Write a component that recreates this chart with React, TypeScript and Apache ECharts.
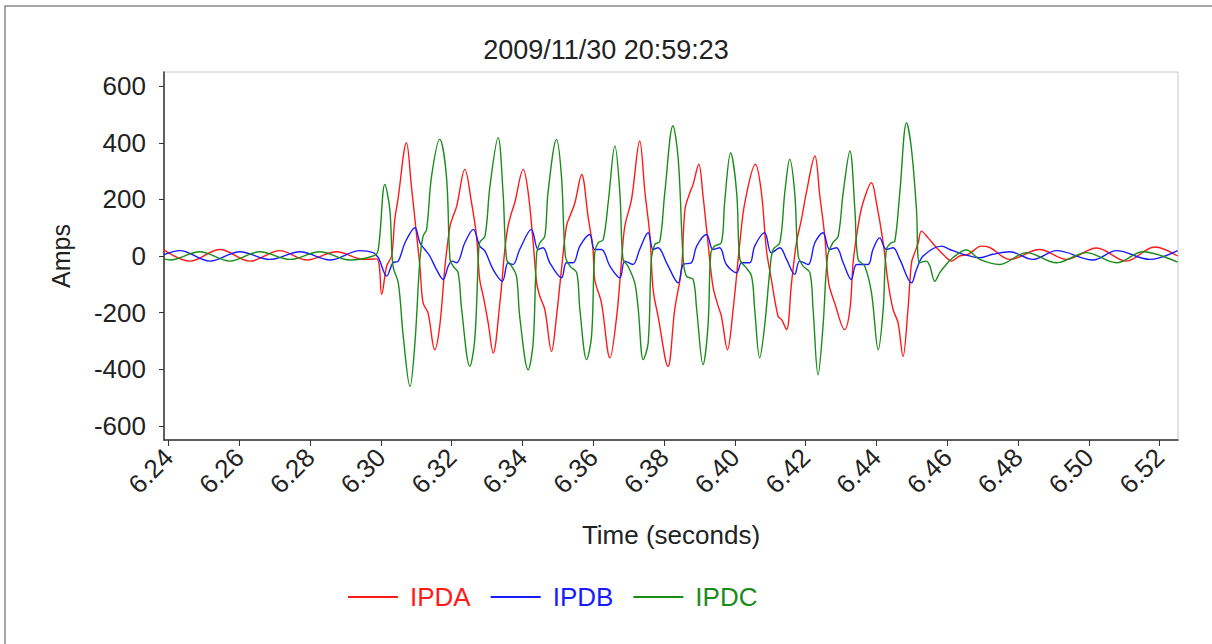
import React, { useEffect, useRef } from "react";
import * as echarts from "echarts";

const TITLE = "2009/11/30 20:59:23";
const SERIES_NAMES = ["IPDA", "IPDB", "IPDC"];
const SERIES_COLORS = ["#ff1a1a", "#1a1aff", "#1a8c1a"];
const TIME_TICKS = [6.24, 6.26, 6.28, 6.3, 6.32, 6.34, 6.36, 6.38, 6.4, 6.42, 6.44, 6.46, 6.48, 6.5, 6.52];
const AMP_TICKS = [-600, -400, -200, 0, 200, 400, 600];
const X_MIN = 6.2387;
const X_MAX = 6.5252;
const Y_MIN = -650;
const Y_MAX = 650;

const IPDA: [number, number][] = [
  [6.2385, 23], [6.246, -18], [6.2545, 23], [6.263, -18], [6.2714, 19], [6.2791, -14], [6.2875, 15],
  [6.2952, -12], [6.2988, -10], [6.3002, -136], [6.3016, -36], [6.303, 0], [6.3039, 129], [6.3048, 200],
  [6.3072, 400], [6.3086, 247], [6.3101, 70], [6.311, -36], [6.3119, -166], [6.3133, -201], [6.3152, -331],
  [6.3166, -248], [6.3181, -36], [6.3195, 105], [6.3204, 141], [6.3214, 176], [6.3237, 306], [6.3256, 188],
  [6.327, 70], [6.3279, -83], [6.3289, -142], [6.3303, -236], [6.3317, -343], [6.3336, -166], [6.335, 23],
  [6.3359, 105], [6.3369, 153], [6.3378, 188], [6.3402, 306], [6.3416, 224], [6.343, 47], [6.344, -95],
  [6.3449, -142], [6.3463, -189], [6.3482, -337], [6.3496, -213], [6.351, -48], [6.3524, 105], [6.3534, 141],
  [6.3548, 188], [6.3567, 288], [6.3585, 141], [6.3599, 23], [6.3604, -83], [6.3623, -166], [6.3647, -360],
  [6.3666, -213], [6.368, -12], [6.3689, 105], [6.3708, 200], [6.3731, 406], [6.3746, 224], [6.376, 70],
  [6.3769, -119], [6.3783, -213], [6.3811, -390], [6.383, -189], [6.3849, -48], [6.3859, 165], [6.3873, 224],
  [6.3882, 253], [6.3898, 324], [6.391, 212], [6.3924, 47], [6.3938, -107], [6.3953, -178], [6.3962, -213],
  [6.3979, -331], [6.3995, -189], [6.4014, 47], [6.4028, 188], [6.4058, 324], [6.4075, 224], [6.4089, 23],
  [6.4103, -83], [6.4122, -213], [6.4132, -225], [6.4146, -260], [6.416, -95], [6.4174, 47], [6.4188, 129],
  [6.4202, 224], [6.4226, 353], [6.424, 212], [6.4254, 70], [6.4265, -95], [6.4282, -166], [6.431, -260],
  [6.4325, -189], [6.4334, -24], [6.4348, 105], [6.4362, 188], [6.4386, 259], [6.44, 188], [6.4419, 47],
  [6.4433, -95], [6.4447, -189], [6.4461, -236], [6.4475, -355], [6.4489, -189], [6.4499, -24], [6.4508, 11],
  [6.4518, 47], [6.4527, 88], [6.4546, 64], [6.457, 29], [6.4593, 0], [6.4612, -18], [6.4635, 0],
  [6.4659, 6], [6.4697, 35], [6.472, 30], [6.4777, -12], [6.4861, 23], [6.4937, -12], [6.5022, 28],
  [6.5106, -18], [6.5186, 32], [6.5251, 0],
];

const IPDB: [number, number][] = [
  [6.2387, 5], [6.2432, 19], [6.2517, -18], [6.2601, 15], [6.2686, -12], [6.2771, 15], [6.2856, -14],
  [6.294, 19], [6.2978, 12], [6.2992, -5], [6.2997, -18], [6.3016, -71], [6.3034, -24], [6.3049, -18],
  [6.3068, 47], [6.3096, 100], [6.311, 47], [6.3124, 23], [6.3138, 0], [6.3157, -48], [6.3176, -83],
  [6.319, -36], [6.3201, -18], [6.3214, -24], [6.3237, 47], [6.3261, 94], [6.3279, 35], [6.3294, 17],
  [6.3317, -48], [6.3343, -89], [6.3359, -24], [6.3373, -30], [6.3392, 23], [6.3425, 94], [6.3444, 23],
  [6.3458, 29], [6.3477, -24], [6.351, -77], [6.3524, -24], [6.3543, -24], [6.3562, 35], [6.359, 76],
  [6.3604, 23], [6.3623, 23], [6.3647, -36], [6.3675, -77], [6.3689, -18], [6.3712, -30], [6.3731, 23],
  [6.3755, 82], [6.3769, 23], [6.3783, 29], [6.3807, -24], [6.384, -95], [6.3854, -30], [6.3877, -24],
  [6.3892, 35], [6.392, 76], [6.3938, 23], [6.3957, 29], [6.3976, -30], [6.4005, -59], [6.4019, -24],
  [6.4042, -24], [6.4056, 35], [6.4084, 82], [6.4103, 11], [6.4127, 29], [6.4146, -12], [6.4169, -65],
  [6.4183, -18], [6.4207, -30], [6.4226, 47], [6.4249, 82], [6.4268, 23], [6.4287, 29], [6.4306, -24],
  [6.4329, -83], [6.4344, -30], [6.4376, -30], [6.439, 23], [6.4409, 64], [6.4428, 23], [6.4447, 29],
  [6.4466, -12], [6.4499, -95], [6.4513, -48], [6.4532, 0], [6.4584, 35], [6.4607, 23], [6.4645, 6],
  [6.4692, -6], [6.4729, 6], [6.4777, 15], [6.4842, -12], [6.4909, 19], [6.5012, -14], [6.5078, 19],
  [6.5172, -12], [6.5251, 19],
];

const IPDC: [number, number][] = [
  [6.2387, -10], [6.2404, -14], [6.2488, 15], [6.2573, -18], [6.2658, 15], [6.2743, -12], [6.2827, 15],
  [6.2912, -14], [6.2978, 0], [6.2992, 20], [6.3011, 253], [6.3025, 165], [6.3034, -36], [6.3049, -95],
  [6.3063, -284], [6.3082, -461], [6.3096, -307], [6.311, -12], [6.3119, 70], [6.3129, 94], [6.3143, 282],
  [6.3166, 412], [6.3185, 282], [6.3195, -12], [6.3204, -36], [6.3218, -59], [6.3228, -189], [6.3251, -390],
  [6.3265, -296], [6.3275, -12], [6.3279, 47], [6.3294, 70], [6.3308, 247], [6.3331, 418], [6.3345, 224],
  [6.3355, -12], [6.3369, -36], [6.3383, -71], [6.3392, -213], [6.3416, -402], [6.343, -307], [6.344, 11],
  [6.3449, 47], [6.3463, 70], [6.3472, 224], [6.3496, 412], [6.351, 282], [6.3521, 0], [6.3534, -36],
  [6.3553, -59], [6.3562, -189], [6.3581, -366], [6.3595, -284], [6.3604, 11], [6.3614, 47], [6.3628, 58],
  [6.3642, 188], [6.3661, 389], [6.3675, 224], [6.3684, -12], [6.3698, -36], [6.3717, -95], [6.3727, -189],
  [6.3741, -366], [6.3755, -307], [6.3764, -12], [6.3774, 41], [6.3788, 52], [6.3802, 224], [6.3825, 460],
  [6.384, 342], [6.3854, -12], [6.3863, -71], [6.3882, -83], [6.3892, -189], [6.391, -384], [6.3924, -248],
  [6.3932, 11], [6.3943, 35], [6.3962, 47], [6.3971, 188], [6.3988, 365], [6.4005, 224], [6.4014, -12],
  [6.4028, -36], [6.4047, -71], [6.4056, -189], [6.407, -360], [6.4084, -248], [6.4099, -48], [6.4108, 23],
  [6.4127, 47], [6.4141, 224], [6.4155, 342], [6.4169, 224], [6.4179, 0], [6.4193, -36], [6.4212, -59],
  [6.4221, -189], [6.4235, -420], [6.4249, -248], [6.4262, 0], [6.4277, 47], [6.4292, 70], [6.4306, 224],
  [6.4325, 371], [6.4339, 165], [6.4348, -12], [6.4367, -36], [6.4386, -130], [6.4405, -331], [6.4419, -189],
  [6.4428, 23], [6.4442, 47], [6.4452, 52], [6.4466, 224], [6.4485, 471], [6.4499, 377], [6.4513, 165],
  [6.4522, -24], [6.4541, -18], [6.4551, -36], [6.4565, -89], [6.4579, -59], [6.4593, -36], [6.4616, -6],
  [6.4654, 21], [6.4692, -12], [6.4748, -30], [6.4824, 12], [6.4909, -24], [6.4993, 12], [6.5078, -24],
  [6.5153, 15], [6.5251, -22],
];

const SERIES_DATA = [IPDA, IPDB, IPDC];
const FONT = "'Liberation Sans', Arial, sans-serif";

export default function App() {
  const ref = useRef<HTMLDivElement>(null);
  useEffect(() => {
    if (!ref.current) return;
    const chart = echarts.init(ref.current, null, { renderer: "svg" });
    chart.setOption({
      animation: false,
      backgroundColor: "#ffffff",
      textStyle: { fontFamily: FONT },
      title: {
        text: TITLE,
        left: "center",
        top: 31,
        textStyle: { fontFamily: FONT, fontSize: 27, fontWeight: "normal", color: "#222" },
      },
      graphic: [
        {
          type: "rect",
          shape: { x: 5, y: 6, width: 1400, height: 1000 },
          style: { fill: "none", stroke: "#8a8a8a", lineWidth: 1.5 },
          silent: true,
        },
      ],
      legend: {
        left: 343,
        top: 579,
        icon: "rect",
        itemWidth: 50,
        itemHeight: 2,
        itemGap: 20,
        textStyle: { fontFamily: FONT, fontSize: 26, padding: [0, 0, 0, 7] },
        data: SERIES_NAMES.map((n, i) => ({ name: n, textStyle: { color: SERIES_COLORS[i] } })),
      },
      grid: {
        left: 164,
        right: 34,
        top: 72,
        bottom: 204,
        show: true,
        borderColor: "#c8c8c8",
        borderWidth: 1,
      },
      xAxis: {
        type: "value",
        min: X_MIN,
        max: X_MAX,
        name: "Time (seconds)",
        nameLocation: "middle",
        nameGap: 82,
        nameTextStyle: { fontFamily: FONT, fontSize: 26, color: "#222" },
        axisLine: { onZero: false, lineStyle: { color: "#333", width: 1.5 } },
        axisTick: { show: true, length: 6, customValues: TIME_TICKS, lineStyle: { color: "#333" } },
        axisLabel: {
          customValues: TIME_TICKS,
          rotate: 45,
          margin: 13,
          fontSize: 26,
          color: "#222",
          fontFamily: FONT,
          formatter: (v: number) => v.toFixed(2),
        },
        splitLine: { show: false },
      },
      yAxis: {
        type: "value",
        min: Y_MIN,
        max: Y_MAX,
        name: "Amps",
        nameLocation: "middle",
        nameGap: 91,
        nameTextStyle: { fontFamily: FONT, fontSize: 25, color: "#222" },
        axisLine: { show: true, onZero: false, lineStyle: { color: "#333", width: 1.5 } },
        axisTick: { show: true, length: 5, customValues: AMP_TICKS, lineStyle: { color: "#333" } },
        axisLabel: {
          customValues: AMP_TICKS,
          margin: 18,
          fontSize: 26,
          color: "#222",
          fontFamily: FONT,
        },
        splitLine: { show: false },
      },
      series: SERIES_NAMES.map((n, i) => ({
        name: n,
        type: "line",
        data: SERIES_DATA[i],
        symbol: "none",
        showSymbol: false,
        smooth: 0.35,
        lineStyle: { color: SERIES_COLORS[i], width: 1.4 },
        itemStyle: { color: SERIES_COLORS[i] },
        z: 2,
      })),
    });
    return () => chart.dispose();
  }, []);
  return (
    <div
      ref={ref}
      style={{ position: "absolute", left: 0, top: 0, width: 1212, height: 644 }}
    />
  );
}
